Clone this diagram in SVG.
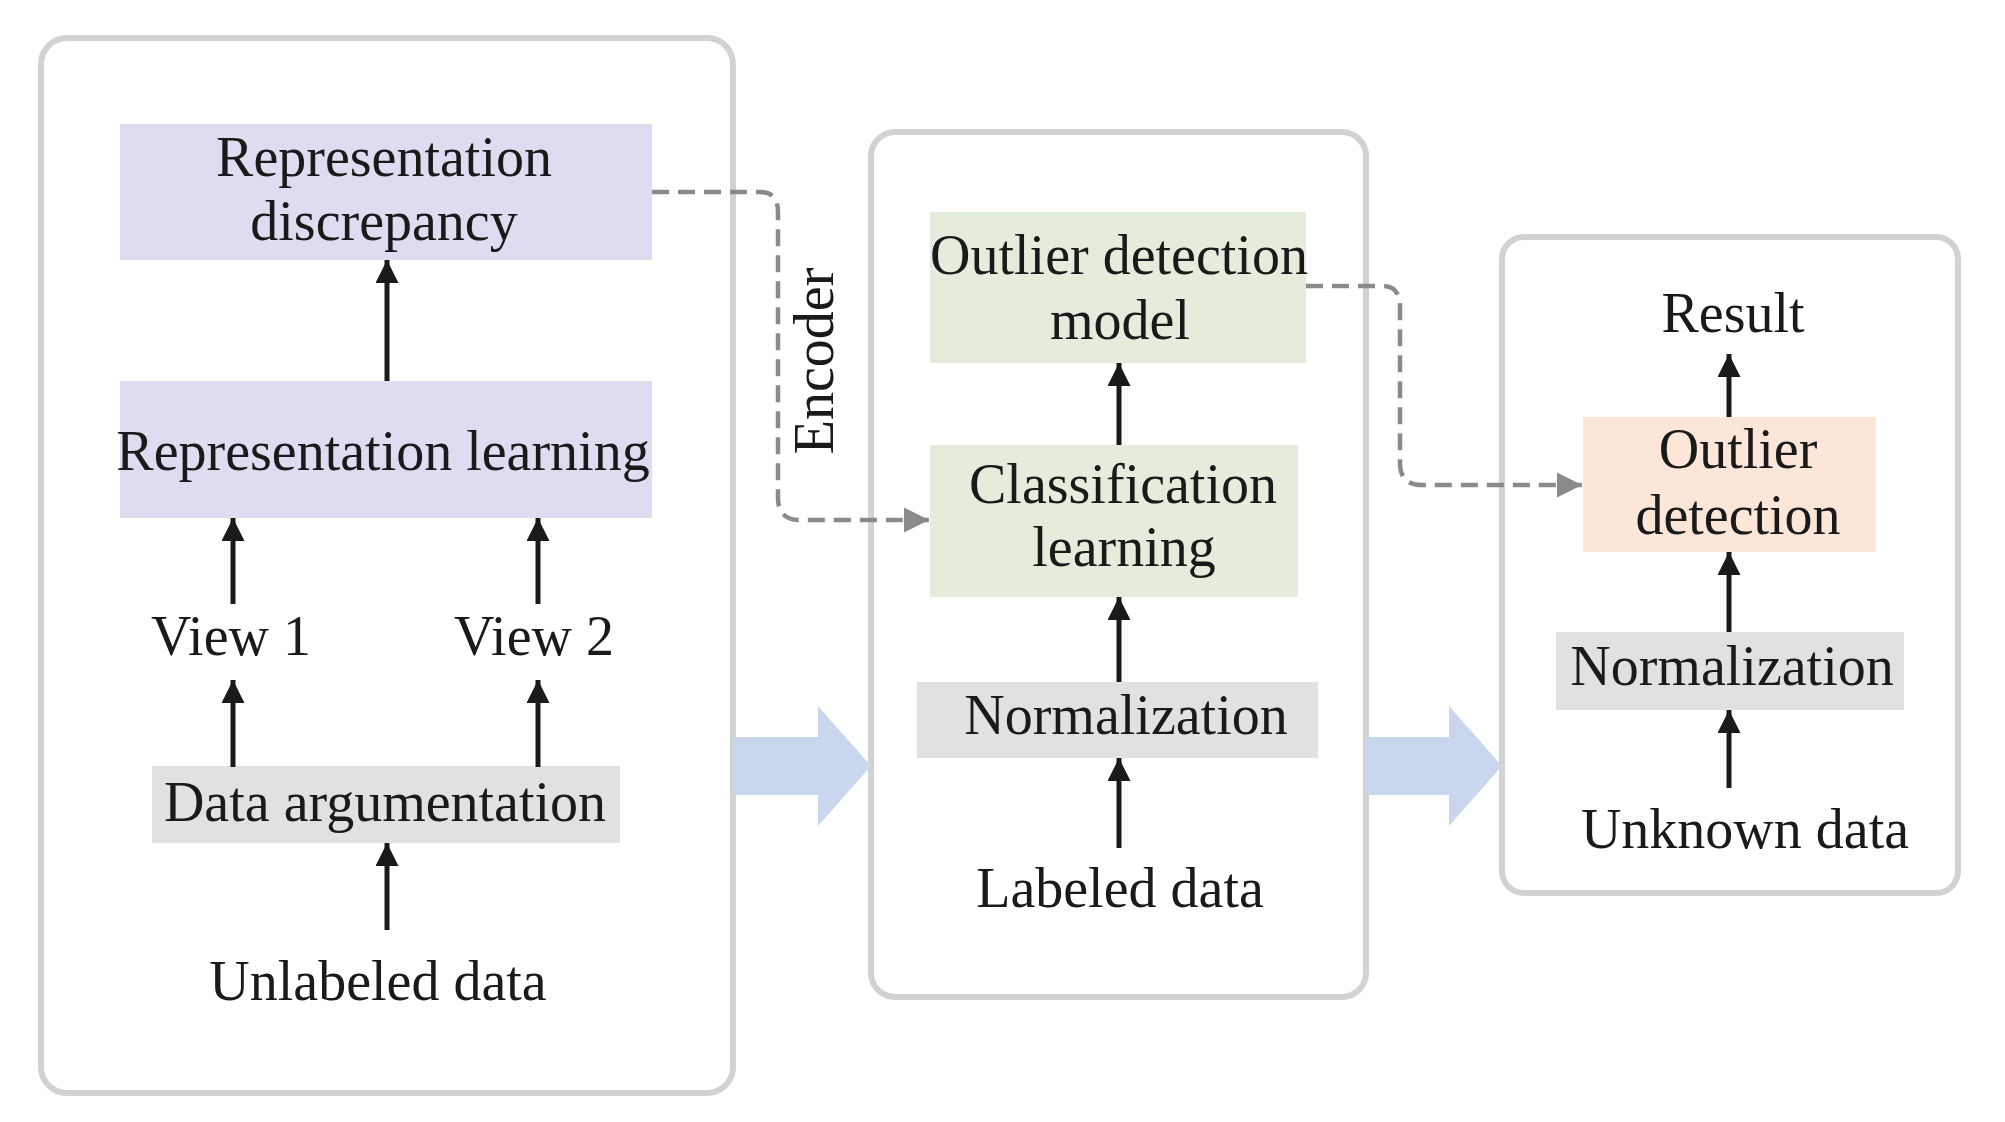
<svg xmlns="http://www.w3.org/2000/svg" width="2005" height="1122" viewBox="0 0 2005 1122">
<defs>
<style>
.panel{fill:#ffffff;stroke:#d2d2d2;stroke-width:6}
.lav{fill:#dedcf0}
.grn{fill:#e4eddb}
.pch{fill:#fbe6d8}
.gry{fill:#e1e1e1}
.t{font-family:"Liberation Serif","Times New Roman",serif;font-size:56px;fill:#1a1a1a;text-anchor:middle}
.arr{stroke:#1a1a1a;stroke-width:5;fill:none;marker-end:url(#ah)}
.dash{stroke:#8a8a8a;stroke-width:4.5;fill:none;stroke-dasharray:17 9;marker-end:url(#dh)}
.big{fill:#c9d7ee}
</style>
<marker id="ah" viewBox="0 0 10 10" refX="10" refY="5" markerWidth="5.4" markerHeight="4.6" markerUnits="strokeWidth" orient="auto">
<path d="M0,0 L10,5 L0,10 Z" fill="#1a1a1a"/>
</marker>
<marker id="dh" viewBox="0 0 10 10" refX="10" refY="5" markerWidth="5.6" markerHeight="5.6" markerUnits="strokeWidth" orient="auto">
<path d="M0,0 L10,5 L0,10 Z" fill="#8a8a8a"/>
</marker>
</defs>
<rect width="2005" height="1122" fill="#ffffff"/>

<g id="panel-left"><rect class="panel" x="41" y="38" width="692" height="1055" rx="26"/></g>
<g id="panel-mid"><rect class="panel" x="871" y="132" width="495" height="865" rx="24"/></g>
<g id="panel-right"><rect class="panel" x="1502" y="237" width="456" height="656" rx="22"/></g>

<g id="block-arrows">
<path class="big" d="M733,737 L818,737 L818,706 L871,766 L818,826 L818,795 L733,795 Z"/>
<path class="big" d="M1366,737 L1449,737 L1449,706 L1502,766 L1449,826 L1449,795 L1366,795 Z"/>
</g>

<g id="node-rep-discrepancy">
<rect class="lav" x="120" y="124" width="532" height="136"/>
<text class="t" x="384" y="176">Representation</text>
<text class="t" x="384" y="240">discrepancy</text>
</g>
<g id="node-rep-learning">
<rect class="lav" x="120" y="381" width="532" height="137"/>
<text class="t" x="383" y="470">Representation learning</text>
</g>
<g id="node-view1"><text class="t" x="231" y="655">View 1</text></g>
<g id="node-view2"><text class="t" x="534" y="655">View 2</text></g>
<g id="node-data-arg">
<rect class="gry" x="152" y="766" width="468" height="77"/>
<text class="t" x="385" y="821">Data argumentation</text>
</g>
<g id="node-unlabeled"><text class="t" x="378" y="1000">Unlabeled data</text></g>

<g id="label-encoder"><text class="t" transform="translate(833,361) rotate(-90)" x="0" y="0">Encoder</text></g>

<g id="node-odm">
<rect class="grn" x="930" y="212" width="376" height="151"/>
<text class="t" x="1119" y="274">Outlier detection</text>
<text class="t" x="1120" y="339">model</text>
</g>
<g id="node-class">
<rect class="grn" x="930" y="445" width="368" height="152"/>
<text class="t" x="1123" y="503">Classification</text>
<text class="t" x="1124" y="566">learning</text>
</g>
<g id="node-norm-mid">
<rect class="gry" x="917" y="682" width="401" height="76"/>
<text class="t" x="1126" y="734">Normalization</text>
</g>
<g id="node-labeled"><text class="t" x="1120" y="907">Labeled data</text></g>

<g id="node-result"><text class="t" x="1733" y="332">Result</text></g>
<g id="node-outlier-det">
<rect class="pch" x="1583" y="417" width="293" height="135"/>
<text class="t" x="1738" y="468">Outlier</text>
<text class="t" x="1738" y="534">detection</text>
</g>
<g id="node-norm-right">
<rect class="gry" x="1556" y="632" width="348" height="78"/>
<text class="t" x="1732" y="685">Normalization</text>
</g>
<g id="node-unknown"><text class="t" x="1745" y="848">Unknown data</text></g>

<g id="connectors">
<line class="arr" x1="387" y1="381" x2="387" y2="260"/>
<line class="arr" x1="233" y1="604" x2="233" y2="518"/>
<line class="arr" x1="538" y1="604" x2="538" y2="518"/>
<line class="arr" x1="233" y1="767" x2="233" y2="680"/>
<line class="arr" x1="538" y1="767" x2="538" y2="680"/>
<line class="arr" x1="387" y1="930" x2="387" y2="843"/>
<line class="arr" x1="1119" y1="445" x2="1119" y2="363"/>
<line class="arr" x1="1119" y1="682" x2="1119" y2="597"/>
<line class="arr" x1="1119" y1="848" x2="1119" y2="758"/>
<line class="arr" x1="1729" y1="417" x2="1729" y2="354"/>
<line class="arr" x1="1729" y1="632" x2="1729" y2="552"/>
<line class="arr" x1="1729" y1="788" x2="1729" y2="710"/>
<path class="dash" d="M652,192 L760,192 Q778,192 778,212 L778,498 Q778,520 800,520 L929,520"/>
<path class="dash" d="M1306,286 L1382,286 Q1400,286 1400,306 L1400,463 Q1400,485 1422,485 L1582,485"/>
</g>
</svg>
